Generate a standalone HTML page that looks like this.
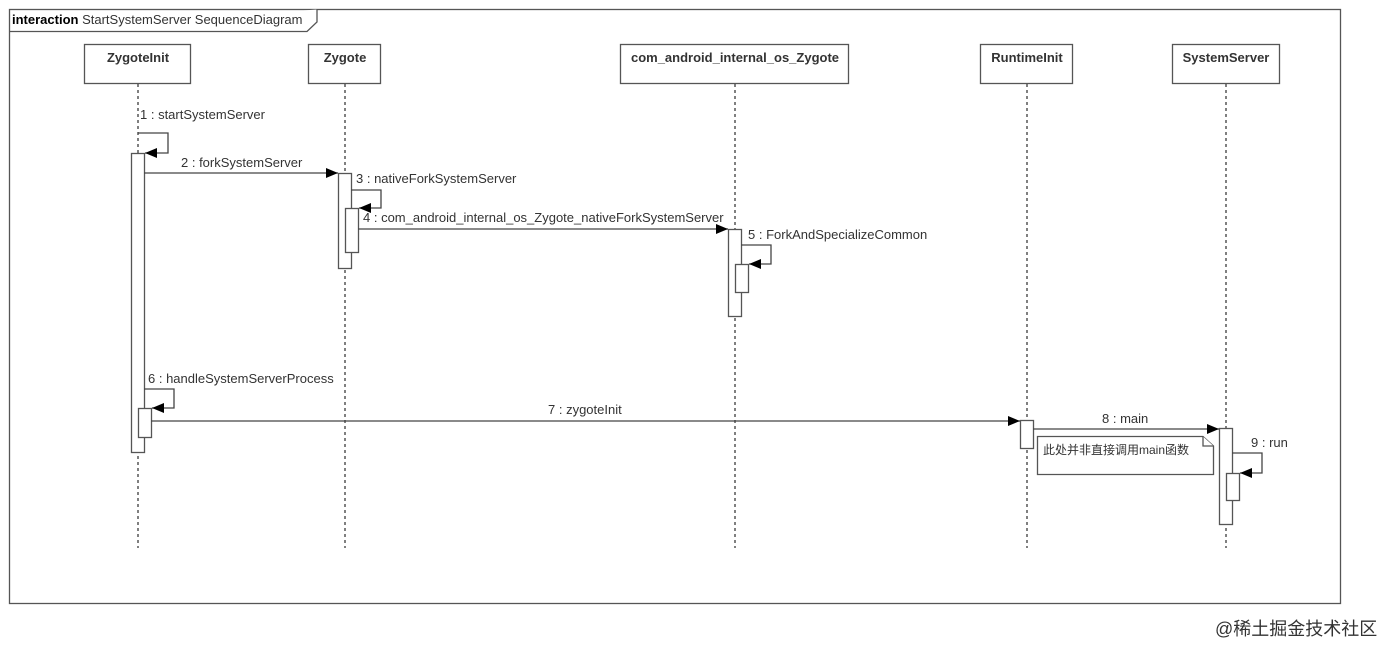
<!DOCTYPE html>
<html><head><meta charset="utf-8"><style>
body{margin:0;background:#fff;}
svg text{font-family:"Liberation Sans","Noto Sans CJK SC",sans-serif;font-size:13px;fill:#333;}
</style></head><body>
<svg width="1381" height="644" xmlns="http://www.w3.org/2000/svg">
<defs><marker id="a" markerWidth="12" markerHeight="10" refX="12" refY="5" orient="auto" markerUnits="userSpaceOnUse"><path d="M0,0 L12,5 L0,10 z" fill="#000"/></marker></defs>
<g fill="#fff" stroke="#555" stroke-width="1.3">
<rect x="9.5" y="9.5" width="1331" height="594"/>
<path d="M9.5,31.5 H307 L317,22 V9.5"/>
</g>
<text x="12" y="24" style="font-size:13px"><tspan font-weight="bold" fill="#000">interaction</tspan> StartSystemServer SequenceDiagram</text>
<g stroke="#000" stroke-dasharray="3,3" stroke-width="1">
<line x1="138" y1="84" x2="138" y2="548"/><line x1="345" y1="84" x2="345" y2="548"/><line x1="735" y1="84" x2="735" y2="548"/><line x1="1027" y1="84" x2="1027" y2="548"/><line x1="1226" y1="84" x2="1226" y2="548"/>
</g>
<g fill="#fff" stroke="#555" stroke-width="1.3">
<rect x="84.5" y="44.5" width="106" height="39"/><rect x="308.5" y="44.5" width="72" height="39"/><rect x="620.5" y="44.5" width="228" height="39"/><rect x="980.5" y="44.5" width="92" height="39"/><rect x="1172.5" y="44.5" width="107" height="39"/>
</g>
<g font-weight="bold" text-anchor="middle">
<text x="138" y="62" fill="#111">ZygoteInit</text><text x="345" y="62" fill="#111">Zygote</text><text x="735" y="62" fill="#111">com_android_internal_os_Zygote</text><text x="1027" y="62" fill="#111">RuntimeInit</text><text x="1226" y="62" fill="#111">SystemServer</text>
</g>
<g fill="#fff" stroke="#555" stroke-width="1.3">
<rect x="131.5" y="153.5" width="13" height="299"/><rect x="138.5" y="408.5" width="13" height="29"/>
<rect x="338.5" y="173.5" width="13" height="95"/><rect x="345.5" y="208.5" width="13" height="44"/>
<rect x="728.5" y="229.5" width="13" height="87"/><rect x="735.5" y="264.5" width="13" height="28"/>
<rect x="1020.5" y="420.5" width="13" height="28"/>
<rect x="1219.5" y="428.5" width="13" height="96"/><rect x="1226.5" y="473.5" width="13" height="27"/>
<path d="M1037.5,436.5 H1203 L1213.5,446 V474.5 H1037.5 Z"/><path d="M1203,436.5 V446 H1213.5"/>
</g>
<g fill="none" stroke="#444" stroke-width="1.3" marker-end="url(#a)">
<path d="M138,133 H168 V153 H145"/>
<line x1="144" y1="173" x2="338" y2="173"/>
<path d="M351,190 H381 V208 H359"/>
<line x1="358" y1="229" x2="728" y2="229"/>
<path d="M741,245 H771 V264 H749"/>
<path d="M144,389 H174 V408 H152"/>
<line x1="151" y1="421" x2="1020" y2="421"/>
<line x1="1033" y1="429" x2="1219" y2="429"/>
<path d="M1232,453 H1262 V473 H1240"/>
</g>
<text x="140" y="119">1 : startSystemServer</text>
<text x="181" y="167">2 : forkSystemServer</text>
<text x="356" y="183">3 : nativeForkSystemServer</text>
<text x="363" y="222">4 : com_android_internal_os_Zygote_nativeForkSystemServer</text>
<text x="748" y="239">5 : ForkAndSpecializeCommon</text>
<text x="148" y="383">6 : handleSystemServerProcess</text>
<text x="548" y="414">7 : zygoteInit</text>
<text x="1102" y="423">8 : main</text>
<text x="1251" y="447">9 : run</text>
<text x="1043" y="454" fill="#000" style="font-size:12px">此处并非直接调用main函数</text>
<text x="1215" y="635" style="font-size:18px" fill="#c4c4c4">@稀土掘金技术社区</text>
</svg>
</body></html>
